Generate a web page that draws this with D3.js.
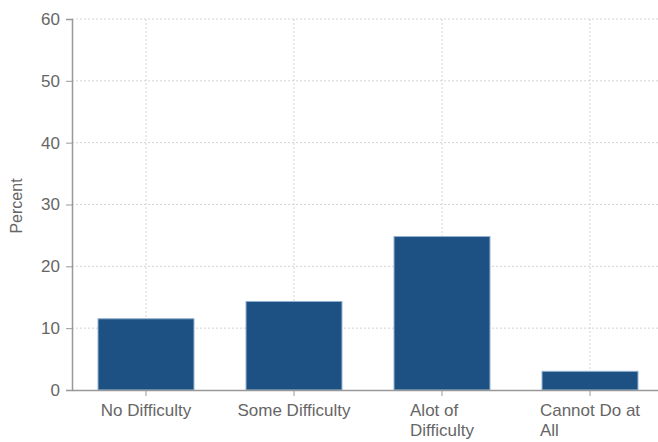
<!DOCTYPE html>
<html><head><meta charset="utf-8">
<script src="https://cdn.jsdelivr.net/npm/d3@7"></script>
<style>
body{margin:0;background:#fff;}
text{font-family:"Liberation Sans",Arial,Helvetica,sans-serif;}
</style></head>
<body><svg id="c" width="658" height="442"></svg>
<script>
const categories = ["No Difficulty","Some Difficulty","Alot of Difficulty","Cannot Do at All"];
const categoryLines = [["No Difficulty"],["Some Difficulty"],["Alot of","Difficulty"],["Cannot Do at","All"]];
const values = [11.6, 14.4, 24.9, 3.1];
const yTicks = [0,10,20,30,40,50,60];
const yLabel = "Percent";

(function(){
const svg = d3.select("#c");
const mL = 72, mR = 664, mT = 19, mB = 390;
const x = d3.scaleBand().domain(categories).range([mL,mR]).paddingInner(0.345).paddingOuter(0.1725);
const y = d3.scaleLinear().domain([0,60]).range([mB,mT]);

// grid
svg.append("g").selectAll("line").data(yTicks.filter(d=>d>0)).join("line")
  .attr("x1",mL).attr("x2",658).attr("y1",d=>y(d)).attr("y2",d=>y(d))
  .attr("stroke","#d4d4d4").attr("stroke-dasharray","2,2");
svg.append("g").selectAll("line").data(categories).join("line")
  .attr("x1",d=>x(d)+x.bandwidth()/2).attr("x2",d=>x(d)+x.bandwidth()/2)
  .attr("y1",mT).attr("y2",mB)
  .attr("stroke","#d4d4d4").attr("stroke-dasharray","2,2");

// bars
svg.append("g").selectAll("rect").data(categories).join("rect")
  .attr("x",d=>x(d)+0.5).attr("width",x.bandwidth()-1)
  .attr("y",(d,i)=>y(values[i])+0.5).attr("height",(d,i)=>mB-y(values[i])-0.5)
  .attr("fill","#1d5083").attr("stroke","#8fb0d0").attr("stroke-width",1);

// y axis
const ya = svg.append("g").attr("transform",`translate(${mL},0)`)
  .call(d3.axisLeft(y).tickValues(yTicks).tickSize(6).tickPadding(6));
ya.select(".domain").attr("stroke","#999").attr("stroke-width",1.5);
ya.selectAll(".tick line").attr("stroke","#999");
ya.selectAll(".tick text").attr("fill","#666").style("font-size","17px")
  .style("font-family","'Liberation Sans',Arial,sans-serif");

// x axis
const xa = svg.append("g").attr("transform",`translate(0,${mB})`)
  .call(d3.axisBottom(x).tickSize(6).tickSizeOuter(0).tickPadding(8));
xa.select(".domain").attr("stroke","#999").attr("stroke-width",1.5);
xa.selectAll(".tick line").attr("stroke","#999");
xa.selectAll(".tick text").attr("fill","#666").style("font-size","17px")
  .style("font-family","'Liberation Sans',Arial,sans-serif")
  .each(function(d){
    const t = d3.select(this);
    const lines = categoryLines[categories.indexOf(d)];
    const dy0 = t.attr("dy");
    t.text(null);
    const ts = lines.map((l,i)=>t.append("tspan").attr("dy", i===0 ? dy0 : "1.2em").text(l));
    let w = 0; ts.forEach(s=>{w=Math.max(w,s.node().getComputedTextLength());});
    t.attr("text-anchor","start");
    ts.forEach(s=>s.attr("x",-w/2));
  });

svg.append("text").attr("transform","translate(22,206) rotate(-90)")
  .attr("text-anchor","middle").attr("fill","#666").style("font-size","16px").text(yLabel);
})();
</script></body></html>
